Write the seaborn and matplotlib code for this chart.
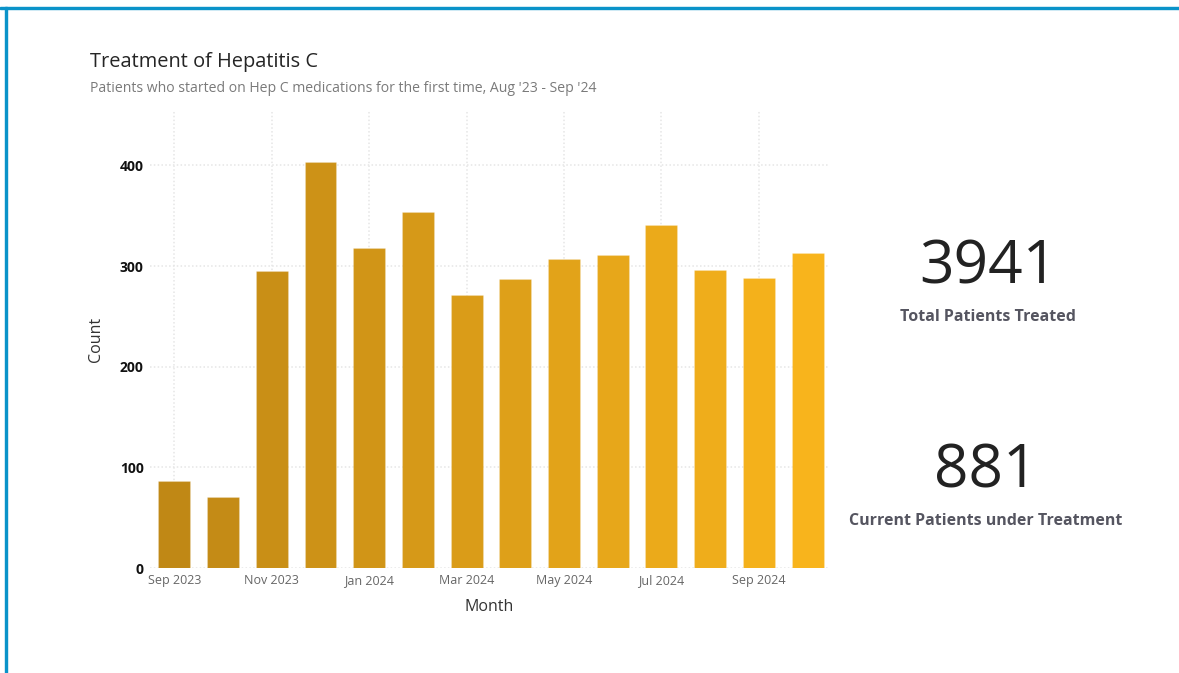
import pandas as pd
import seaborn as sns
import matplotlib.pyplot as plt
from matplotlib.patches import Rectangle

sns.set_theme(style='white')
plt.rcParams['font.family'] = ['Open Sans', 'DejaVu Sans']

# data
months = ['Sep 2023', 'Oct 2023', 'Nov 2023', 'Dec 2023', 'Jan 2024', 'Feb 2024', 'Mar 2024',
          'Apr 2024', 'May 2024', 'Jun 2024', 'Jul 2024', 'Aug 2024', 'Sep 2024', 'Oct 2024']
counts = [86, 71, 295, 403, 318, 354, 271, 287, 307, 311, 341, 296, 288, 313]
total_treated = 3941
current_treated = 881

df = pd.DataFrame({'Month': months, 'Count': counts})
pal = sns.blend_palette(['#C08815', '#F8B41C'], n_colors=len(months))

fig = plt.figure(figsize=(11.79, 6.73), dpi=100)
ax = fig.add_axes([0.1272, 0.156, 0.5751, 0.6806])

sns.barplot(data=df, x='Month', y='Count', hue='Month', palette=pal, legend=False,
            saturation=1, width=0.655, linewidth=0.8, edgecolor='#ffffff30', ax=ax)

ax.set_ylim(0, 455)
ax.set_xlim(-0.5, 13.42)
ax.set_yticks([0, 100, 200, 300, 400])
ax.set_xticks(range(0, len(months), 2))
ax.set_xticklabels(months[::2])
ax.tick_params(axis='x', labelsize=9, colors='#666666', length=0, pad=4)
ax.tick_params(axis='y', labelsize=10, length=0, pad=4.5)
for lab in ax.get_yticklabels():
    lab.set_fontweight('bold')
    lab.set_color('#111111')

ax.grid(True, linestyle=(0, (1, 1.5)), color='#e6e6e6', linewidth=1.1)
ax.set_axisbelow(True)
sns.despine(ax=ax, left=True, bottom=True)

ax.set_xlabel('Month', fontsize=11.5, color='#333333', labelpad=9)
ax.set_ylabel('Count', fontsize=11.5, color='#333333', labelpad=11)

# titles
fig.text(90 / 1179, 1 - 62 / 673, 'Treatment of Hepatitis C', fontsize=14.4, color='#252525',
         va='center', ha='left')
fig.text(90 / 1179, 1 - 89 / 673, "Patients who started on Hep C medications for the first time, Aug '23 - Sep '24",
         fontsize=10.1, color='#7a7a7a', va='center', ha='left')

# KPI cards
fig.text(988 / 1179, 1 - 268 / 673, str(total_treated), fontsize=43.5, color='#222222',
         ha='center', va='center')
fig.text(988 / 1179, 1 - 317 / 673, 'Total Patients Treated', fontsize=11.5, color='#555560',
         fontweight='bold', ha='center', va='center')
fig.text(986 / 1179, 1 - 471 / 673, str(current_treated), fontsize=43.5, color='#222222',
         ha='center', va='center')
fig.text(986 / 1179, 1 - 521 / 673, 'Current Patients under Treatment', fontsize=11.5, color='#555560',
         fontweight='bold', ha='center', va='center')

# frame lines at top and left
fig.patches.append(Rectangle((0, 1 - 9 / 673), 1, 2 / 673, transform=fig.transFigure,
                             color='#0A93C9', zorder=5))
fig.patches.append(Rectangle((5 / 1179, 0), 2 / 1179, 1 - 7 / 673, transform=fig.transFigure,
                             color='#0A93C9', zorder=5))

fig.savefig('out.png', dpi=100)
